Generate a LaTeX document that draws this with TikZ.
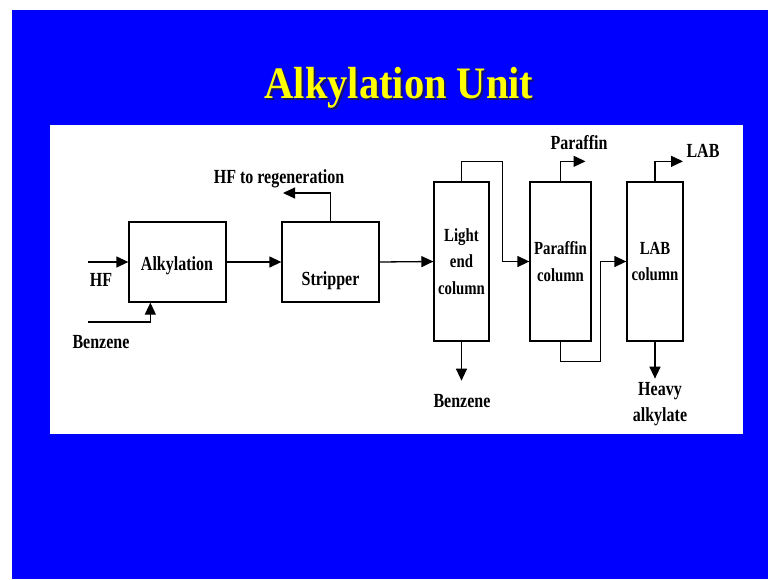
\documentclass[tikz,border=0pt]{standalone}
\usepackage{fontspec}
\newfontfamily\lblfont{Liberation Serif}[FakeStretch=0.80]
\newfontfamily\ttlfont{Liberation Serif}[FakeStretch=0.90]
\usetikzlibrary{arrows.meta,calc}
\definecolor{slideblue}{RGB}{0,0,255}
\definecolor{titleyellow}{RGB}{255,255,0}
\definecolor{titleshadow}{RGB}{20,20,110}
\tikzset{
  lbl/.style={font=\lblfont\bfseries\fontsize{20}{26.5}\selectfont, inner sep=0pt, align=center},
  collbl/.style={font=\lblfont\bfseries\fontsize{18.5}{26.5}\selectfont, inner sep=0pt, align=center},
  unitbox/.style={draw=black, line width=1.3pt, fill=white, inner sep=0pt, lbl},
  colbox/.style={draw=black, line width=1.3pt, fill=white, inner sep=0pt, collbl},
  flow/.style={line width=1.3pt, -{Triangle[length=12pt,width=11pt]}},
}
\begin{document}
\begin{tikzpicture}[x=1pt,y=-1pt]
\useasboundingbox (0,0) rectangle (768,579);
\fill[white] (0,0) rectangle (768,579);
\fill[slideblue] (12,10) rectangle (768,579);
\fill[white] (50,125) rectangle (743,434);
% title (with shadow in the same node)
\node[font=\ttlfont\bfseries\fontsize{45}{50}\selectfont, text=titleyellow, anchor=base] (title) at (399,98)
  {\makebox[0pt][l]{\hspace{2pt}\raisebox{-2pt}{\color{titleshadow}Alkylation Unit}}Alkylation Unit};
% units
\node[unitbox, minimum width=97pt, minimum height=80pt] (alk) at (177.5,262) {};
\node[lbl, anchor=base] (alktext) at (177,270) {Alkylation};
\node[unitbox, minimum width=97pt, minimum height=80pt] (strip) at (330.5,262) {};
\node[lbl, anchor=base] (striptext) at (330.5,285) {Stripper};
\node[colbox, minimum width=55pt, minimum height=159pt] (le) at (461.5,261.5) {Light\\end\\column};
\node[colbox, minimum width=61pt, minimum height=159pt] (pc) at (560.5,261.5) {Paraffin\\column};
\node[colbox, minimum width=56pt, minimum height=159pt] (lab) at (655,261.5) {LAB\\column};
% free ends
\coordinate (hfin) at (88,262);
\coordinate (bzin) at (88,322);
\coordinate (hfreg) at (283,193);
% labels
\node[lbl, anchor=base] (hflbl) at (101,286) {HF};
\node[lbl, anchor=base] (bzlbl) at (101,348) {Benzene};
\node[lbl, anchor=base] (reglbl) at (279,183) {HF to regeneration};
\node[lbl, anchor=base] (bzout) at (462,407) {Benzene};
\node[lbl, anchor=base] (parlbl) at (579,149) {Paraffin};
\node[lbl, anchor=base] (lablbl) at (703,157) {LAB};
\node[lbl, anchor=north] (heavy) at (660,382) {Heavy\\alkylate};
% connectors
\draw[flow] (hfin) -- (alk.west);
\draw[flow] (bzin) -| ([xshift=22pt]alk.south west);
\draw[flow] (alk.east) -- (strip.west);
\draw[flow] (strip.north) |- (hfreg);
\draw[flow] (strip.east) -- (le.west);
\draw[flow] (le.north) -- ([yshift=20pt]le.north) -| ([xshift=-27pt]pc.west) -- (pc.west);
\draw[flow] (le.south) -- ++(0,39);
\draw[flow] (pc.north) -- ([yshift=20pt]pc.north) -- ++(25,0);
\draw[flow] (pc.south) -- ([yshift=-20pt]pc.south) -| ([xshift=-26pt]lab.west) -- (lab.west);
\draw[flow] (lab.north) -- ([yshift=20pt]lab.north) -- ++(28,0);
\draw[flow] (lab.south) -- ++(0,37);
\end{tikzpicture}
\end{document}
